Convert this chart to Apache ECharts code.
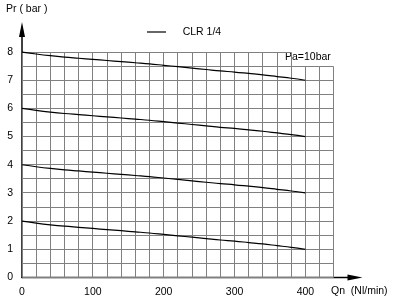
<!DOCTYPE html>
<html>
<head>
<meta charset="utf-8">
<script src="https://cdn.jsdelivr.net/npm/echarts@6/dist/echarts.min.js"></script>
<style>
  html, body { margin: 0; padding: 0; background: #fff; }
  #chart { width: 403px; height: 300px; }
</style>
</head>
<body>
<div id="chart"></div>
<script>
// flow rate (Nl/min) and regulated pressure (bar)
const qn = [0, 20, 40, 60, 80, 100, 120, 140, 160, 180, 200, 220, 240, 260, 280, 300, 320, 340, 360, 380, 400];
const pr8 = [8.00, 7.93, 7.87, 7.82, 7.78, 7.74, 7.70, 7.66, 7.62, 7.58, 7.53, 7.48, 7.43, 7.38, 7.33, 7.29, 7.24, 7.19, 7.13, 7.07, 7.00];
const pr6 = [6.00, 5.93, 5.87, 5.82, 5.78, 5.74, 5.70, 5.66, 5.62, 5.58, 5.53, 5.48, 5.43, 5.38, 5.33, 5.29, 5.24, 5.19, 5.13, 5.07, 5.00];
const pr4 = [4.00, 3.93, 3.87, 3.82, 3.78, 3.74, 3.70, 3.66, 3.62, 3.58, 3.53, 3.48, 3.43, 3.38, 3.33, 3.29, 3.24, 3.19, 3.13, 3.07, 3.00];
const pr2 = [2.00, 1.93, 1.87, 1.82, 1.78, 1.74, 1.70, 1.66, 1.62, 1.58, 1.53, 1.48, 1.43, 1.38, 1.33, 1.29, 1.24, 1.19, 1.13, 1.07, 1.00];
const curves = [pr8, pr6, pr4, pr2];
const seriesName = "CLR 1/4";

// background grid: columns every 20 Nl/min, rows every 0.5 bar
const gridCols = [0, 20, 40, 60, 80, 100, 120, 140, 160, 180, 200, 220, 240, 260, 280, 300, 320, 340, 360, 380, 400, 420, 440];
const gridRows = [0, 0.5, 1, 1.5, 2, 2.5, 3, 3.5, 4, 4.5, 5, 5.5, 6, 6.5, 7, 7.5, 8];
// the top-right cell block is cut out for the "Pa=10bar" note
const notchX = 380;
const notchY = 7.5;

const FONT = "Liberation Sans";

const gridLines = [];
gridCols.forEach((x) => {
  gridLines.push([x, 0, x, x > notchX ? notchY : 8]);
});
gridRows.forEach((y) => {
  gridLines.push([0, y, y > notchY ? notchX : 440, y]);
});

const chart = echarts.init(document.getElementById("chart"), null, { renderer: "canvas" });

const crisp = (v) => Math.round(v - 0.5) + 0.5;

const option = {
  animation: false,
  textStyle: { fontFamily: FONT },
  grid: { left: 22, top: 29.5, width: 333, height: 248 },
  legend: {
    left: 142,
    top: 21,
    itemWidth: 19,
    itemHeight: 1.2,
    data: [{ name: seriesName, icon: "rect" }],
    itemStyle: { color: "#000" },
    formatter: (name) => "    " + name,
    textStyle: { fontFamily: FONT, fontSize: 10.5, color: "#000", lineHeight: 12 }
  },
  xAxis: {
    type: "value",
    min: 0,
    max: 470,
    interval: 100,
    splitLine: { show: false },
    axisTick: { show: false },
    axisLine: {
      lineStyle: { color: "#000", width: 1.3 },
      symbol: ["none", "triangle"],
      symbolSize: [6, 15]
    },
    axisLabel: { showMaxLabel: false, color: "#000", fontSize: 10.5, fontFamily: FONT, margin: 9 }
  },
  yAxis: {
    type: "value",
    min: 0,
    max: 8.8,
    interval: 1,
    splitLine: { show: false },
    axisTick: { show: false },
    axisLine: {
      show: true,
      lineStyle: { color: "#000", width: 1.5 },
      symbol: ["none", "triangle"],
      symbolSize: [6, 15]
    },
    axisLabel: { showMaxLabel: false, color: "#000", fontSize: 10.5, fontFamily: FONT, margin: 9 }
  },
  graphic: [
    { type: "text", left: 6, top: 4, style: { text: "Pr ( bar )", font: "10.5px " + FONT, fill: "#000" } },
    { type: "text", left: 331, top: 286, style: { text: "Qn  (Nl/min)", font: "10.5px " + FONT, fill: "#000" } },
    { type: "text", left: 285, top: 52, style: { text: "Pa=10bar", font: "10.5px " + FONT, fill: "#000" } }
  ],
  series: [
    {
      type: "custom",
      silent: true,
      z: 1,
      data: gridLines,
      renderItem: (params, api) => {
        const p1 = api.coord([api.value(0), api.value(1)]);
        const p2 = api.coord([api.value(2), api.value(3)]);
        return {
          type: "line",
          shape: { x1: crisp(p1[0]), y1: crisp(p1[1]), x2: crisp(p2[0]), y2: crisp(p2[1]) },
          style: { stroke: "#808080", lineWidth: 1 }
        };
      }
    },
    ...curves.map((vals) => ({
      name: seriesName,
      type: "line",
      z: 3,
      smooth: 0.4,
      symbol: "none",
      lineStyle: { color: "#000", width: 1.2 },
      itemStyle: { color: "#000" },
      data: qn.map((q, i) => [q, vals[i]])
    }))
  ]
};

chart.setOption(option);
</script>
</body>
</html>
